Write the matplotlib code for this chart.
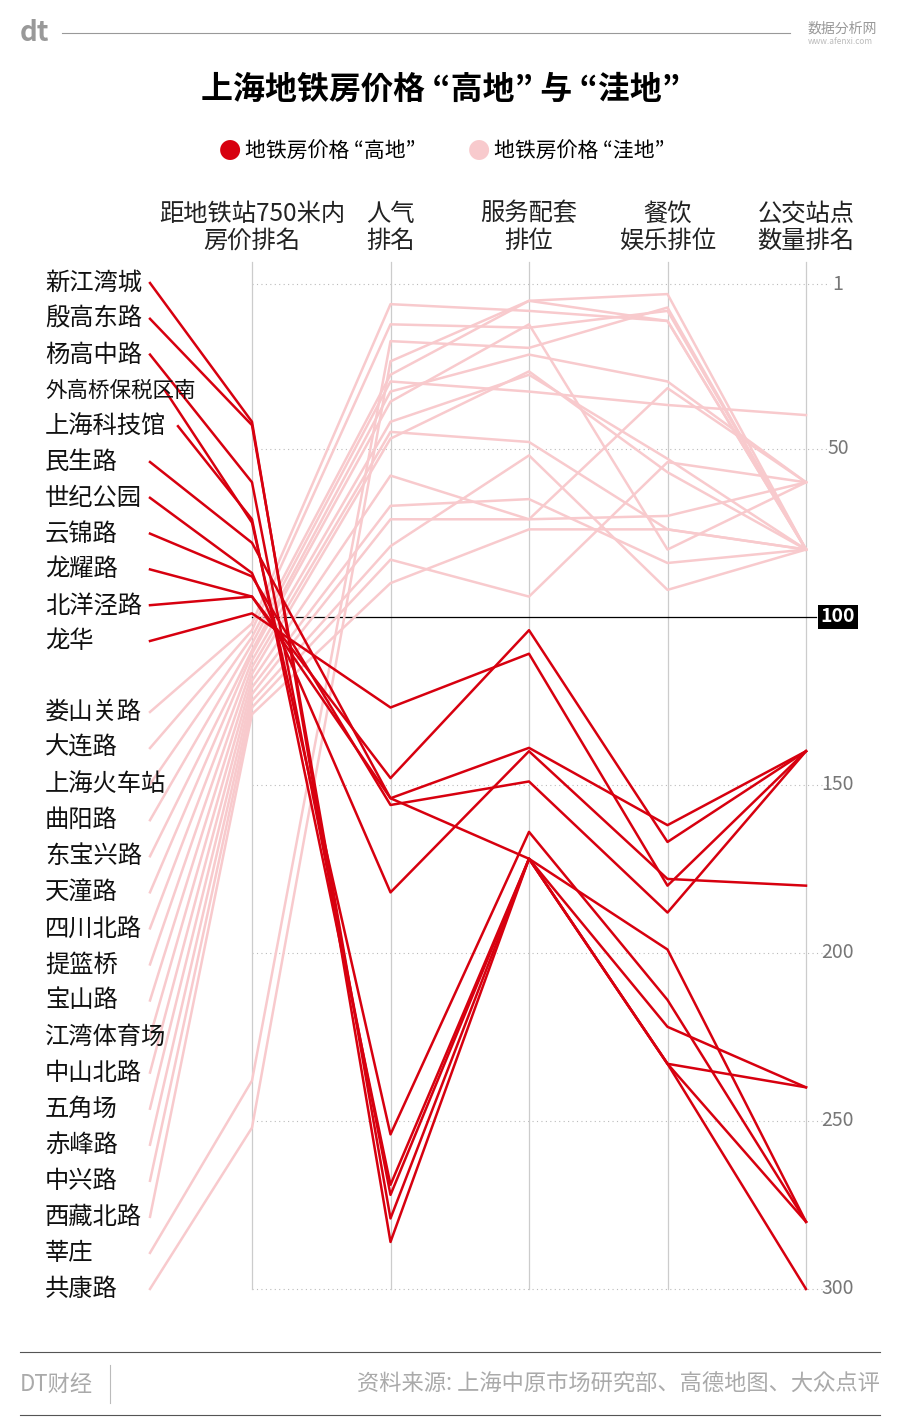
import matplotlib
matplotlib.use("Agg")
import matplotlib.pyplot as plt
from matplotlib import font_manager

cjk = sorted({f.name for f in font_manager.fontManager.ttflist if "CJK" in f.name})
cjk_pick = ([n for n in cjk if "Sans" in n and n.endswith("SC")]
            or [n for n in cjk if "Sans" in n] or cjk)
plt.rcParams["font.family"] = (cjk_pick[:1] if cjk_pick else []) + ["DejaVu Sans"]

RED = "#d7000f"
PINK = "#f8cacd"

COLUMNS = ["距地铁站750米内\n房价排名", "人气\n排名", "服务配套\n排位", "餐饮\n娱乐排位", "公交站点\n数量排名"]
TICKS = [1, 50, 100, 150, 200, 250, 300]

# "high" stations: rank on each of the 5 axes
HIGH_NAMES = ["新江湾城", "殷高东路", "杨高中路", "外高桥保税区南", "上海科技馆", "民生路",
              "世纪公园", "云锦路", "龙耀路", "北洋泾路", "龙华"]
HIGH_RANKS = [
    [42, 286, 172, 233, 300],
    [43, 279, 172, 233, 240],
    [60, 272, 172, 222, 240],
    [72, 254, 164, 214, 280],
    [71, 269, 172, 199, 280],
    [78, 154, 172, 233, 280],
    [87, 182, 140, 178, 180],
    [88, 156, 149, 188, 140],
    [94, 148, 104, 167, 140],
    [94, 154, 139, 162, 140],
    [99, 127, 111, 180, 140],
]

LOW_NAMES = ["娄山关路", "大连路", "上海火车站", "曲阳路", "东宝兴路", "天潼路", "四川北路",
             "提篮桥", "宝山路", "江湾体育场", "中山北路", "五角场", "赤峰路", "中兴路",
             "西藏北路", "莘庄", "共康路"]
LOW_RANKS = [
    [102, 7, 9, 12, 80],
    [104, 13, 14, 9, 80],
    [106, 28, 6, 4, 80],
    [108, 30, 33, 37, 40],
    [110, 33, 22, 30, 60],
    [111, 36, 13, 80, 60],
    [113, 42, 28, 53, 80],
    [115, 45, 48, 74, 80],
    [117, 47, 27, 57, 80],
    [119, 58, 71, 32, 60],
    [121, 67, 65, 84, 80],
    [123, 71, 71, 70, 60],
    [125, 79, 52, 92, 80],
    [127, 83, 94, 54, 60],
    [129, 90, 74, 74, 80],
    [238, 18, 20, 8, 80],
    [252, 24, 6, 12, 80],
]

W, H = 900, 1420
fig = plt.figure(figsize=(W / 100, H / 100), dpi=100)
ax = fig.add_axes([252 / W, 1 - 1289 / H, (806 - 252) / W, (1289 - 284) / H])
ax.set_xlim(0, 4)
ax.set_ylim(300, 1)
ax.axis("off")

px_x = 138.5  # pixels per axis step
px_r = (1289 - 284) / 299  # pixels per rank


def rank_of_px(y):
    return (y - 284) / px_r + 1


# grid
for t in TICKS:
    if t == 100:
        ax.plot([0, 4.07], [t, t], color="black", lw=0.9, clip_on=False, zorder=1)
    else:
        ax.plot([0, 4.17], [t, t], color="#bbbbbb", lw=0.8, ls=(0, (1, 3)), clip_on=False, zorder=0)
for i in range(5):
    ax.plot([i, i], [rank_of_px(262), 300], color="#cccccc", lw=0.9, clip_on=False, zorder=0)

lab_x = -(252 - 150) / px_x
txt_x = -(252 - 45) / px_x
for j, (name, ranks) in enumerate(zip(LOW_NAMES, LOW_RANKS)):
    ly = rank_of_px(712 + j * 36.06)
    ax.plot([lab_x] + list(range(5)), [ly] + ranks, color=PINK, lw=1.8, clip_on=False, zorder=2)
    ax.text(txt_x, ly, name, ha="left", va="center", fontsize=17.5, color="#111111")
for j, (name, ranks) in enumerate(zip(HIGH_NAMES, HIGH_RANKS)):
    ly = rank_of_px(283 + j * 35.8)
    start = lab_x
    if name == "外高桥保税区南":
        start = -(252 - 165) / px_x
    elif name == "上海科技馆":
        start = -(252 - 178) / px_x
    ax.plot([start] + list(range(5)), [ly] + ranks, color=RED, lw=1.8, clip_on=False, zorder=3)
    ax.text(txt_x, ly, name, ha="left", va="center", fontsize=17.5 if len(name) < 7 else 15.5,
            color="#111111", zorder=4)

# right tick labels
for t in TICKS:
    if t == 100:
        ax.text(4.23, t, "100", ha="center", va="center", fontsize=14, color="white",
                fontweight="bold", bbox=dict(facecolor="black", edgecolor="none", pad=2), zorder=5)
    else:
        ax.text(4.23, t, str(t), ha="center", va="center", fontsize=14, color="#777777")

# column headers
for i, c in enumerate(COLUMNS):
    ax.text(i, rank_of_px(227), c, ha="center", va="center", fontsize=17.5, color="#222222",
            linespacing=1.05)

# title and legend
fig.text(0.49, 1 - 90 / H, "上海地铁房价格 “高地” 与 “洼地”", ha="center", va="center",
         fontsize=23, fontweight="bold")
fig.text(230 / W, 1 - 151 / H, "●", color=RED, ha="center", va="center", fontsize=16)
fig.text(245 / W, 1 - 151 / H, "地铁房价格 “高地”", ha="left", va="center", fontsize=15)
fig.text(479 / W, 1 - 151 / H, "●", color=PINK, ha="center", va="center", fontsize=16)
fig.text(494 / W, 1 - 151 / H, "地铁房价格 “洼地”", ha="left", va="center", fontsize=15)

# header strip
fig.text(20 / W, 1 - 33 / H, "dt", color="#999999", fontsize=20, fontweight="bold", va="center")
fig.add_artist(plt.Line2D([62 / W, 790 / W], [1 - 33 / H] * 2, color="#999999", lw=0.8))
fig.text(808 / W, 1 - 29 / H, "数据分析网", color="#999999", fontsize=10, va="center")
fig.text(808 / W, 1 - 42 / H, "www.afenxi.com", color="#bbbbbb", fontsize=6, va="center")

# footer
fig.add_artist(plt.Line2D([20 / W, 880 / W], [1 - 1352 / H] * 2, color="#555555", lw=0.8))
fig.add_artist(plt.Line2D([20 / W, 880 / W], [1 - 1415 / H] * 2, color="#555555", lw=0.8))
fig.add_artist(plt.Line2D([110 / W, 110 / W], [1 - 1365 / H, 1 - 1403 / H], color="#bbbbbb", lw=0.8))
fig.text(20 / W, 1 - 1384 / H, "DT财经", color="#aaaaaa", fontsize=16, va="center")
fig.text(880 / W, 1 - 1384 / H, "资料来源: 上海中原市场研究部、高德地图、大众点评", color="#aaaaaa",
         fontsize=16, va="center", ha="right")

fig.savefig("out.png", dpi=100)
